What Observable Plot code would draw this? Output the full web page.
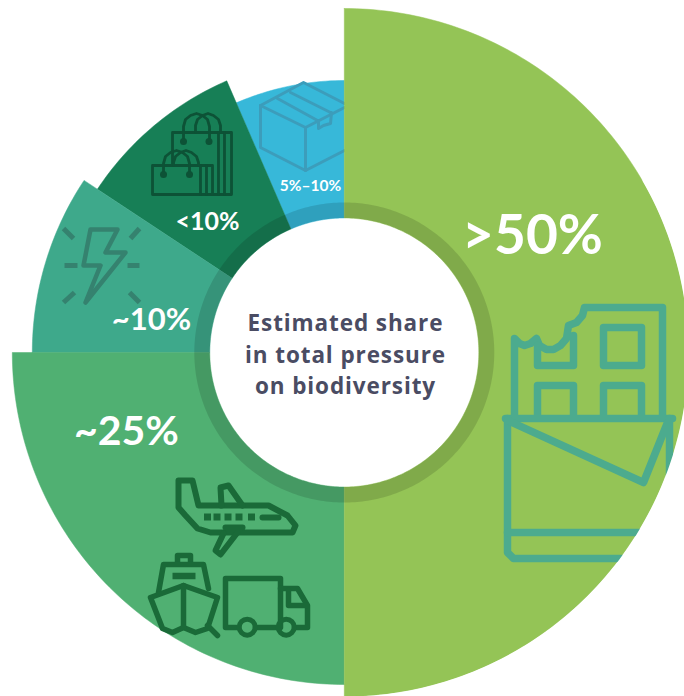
<!DOCTYPE html>
<html><head><meta charset="utf-8">
<script src="https://cdn.jsdelivr.net/npm/d3@7"></script>
<script src="https://cdn.jsdelivr.net/npm/@observablehq/plot@0.6"></script>
<style>html,body{margin:0;padding:0;background:#fff}svg{display:block}</style>
</head><body><div id="chart"></div>
<script>
// chart values
const labels = [">50%", "~25%", "~10%", "<10%", "5%–10%"];
const shares = [50, 25, 9.3, 9.2, 6.5];
const radii = [344, 332, 312, 296, 272];
const colors = ["#94c456", "#50b072", "#3ea98b", "#177f56", "#37b8d9"];
const centerTitle = ["Estimated share", "in total pressure", "on biodiversity"];

// pictograms, as polylines on the picture's own grid
const iconBar = [
  [[514,417],[514,338],[519,343],[524,345],[530,343],[536,338],[539,345],[546,349],[553,349],[560,345],[566,338],[568,325],[576,322],[582,315],[584,307],[662,307],[662,417]],
  [[537,345],[537,365],[573,365],[573,335]],
  [[603,327],[641,327],[641,365],[603,365],[603,327]],
  [[537,417],[537,385],[573,385],[573,417]],
  [[603,417],[603,385],[641,385],[641,417]],
  [[505,418],[672,418]],
  [[507,418],[507,552],[513,558],[640,558]],
  [[507,532],[650,532]],
  [[507,420],[643,482],[667,422]],
  [[669,418],[669,480]]
];
const iconPlane = [
  [[178,480],[192,480],[198,505],[268,505],[287,515],[295,525],[292,532],[210,532],[197,528],[185,515],[178,507],[178,480]],
  [[221,505],[220,487],[228,485],[242,505]],
  [[223,533],[215,550],[220,554],[237,532]],
  [[225,527],[242,527]],
  [[262,517],[278,517]]
];
const iconShip = [
  [[177,562],[177,555],[190,555],[190,562]],
  [[158,592],[163,564],[203,564],[208,588]],
  [[150,597],[183,585],[217,597],[207,628],[195,632],[183,627],[172,632],[162,628],[150,597]],
  [[183,585],[183,627]],
  [[207,625],[217,635]]
];
const iconTruck = [
  [[238,627],[225,627],[225,578],[280,578],[280,627]],
  [[255,627],[277,627]],
  [[294,627],[307,627],[307,605],[297,588],[280,588]],
  [[288,590],[288,605],[306,605]]
];
const iconBags = [
  [[172,165],[172,132],[231,132],[231,194],[152,194],[152,165],[212,165],[212,194]],
  [[218,132],[218,194]], [[224,132],[224,194]],
  [[200,165],[200,194]], [[206,165],[206,194]],
  [[183,141],[183,126],[185,119],[190,115],[196,113],[202,115],[207,119],[209,126],[209,141]],
  [[195,132],[195,125],[197,119],[202,115],[207.5,113],[213,115],[218,119],[220,125],[220,132]],
  [[163,174],[163,163],[165,156],[170,152],[176,150],[182,152],[187,156],[189,163],[189,174]],
  [[173,165],[173,162],[175,156],[180,152],[185.5,150],[191,152],[196,156],[198,162],[198,165]]
];
const iconBox = [
  [[260,105],[303,82],[344,103]],
  [[260,105],[305,127],[344,107]],
  [[305,127],[305,170]],
  [[260,105],[260,147],[305,170],[344,150]],
  [[277,98],[317,120]],
  [[290,92],[330,112]],
  [[318,120],[318,128],[323,125],[330,123],[331,112]]
];
const iconBolt = [[[90,229],[117,229],[105,252],[125,252],[85,302],[100,265],[83,265],[90,229]]];
const iconRays = [
  [[63,228],[73,238]], [[139,228],[130,238]], [[64,265],[77,265]],
  [[127,265],[139,265]], [[63,302],[74,292]], [[139,302],[129,292]]
];

const cx = 343.8, cy = 352, holeR = 134.5, ringR = 150;
const rad = (deg) => deg * Math.PI / 180;
function sector(a0, a1, r0, r1, key) {
  const n = Math.ceil(Math.abs(a1 - a0)) + 1, pts = [];
  const at = (a, r) => ({key, x: cx + r * Math.sin(rad(a)), y: cy - r * Math.cos(rad(a))});
  for (let i = 0; i < n; i++) pts.push(at(a0 + (a1 - a0) * i / (n - 1), r1));
  for (let i = n - 1; i >= 0; i--) pts.push(at(a0 + (a1 - a0) * i / (n - 1), r0));
  pts.push(pts[0]);
  return pts;
}
const total = d3.sum(shares);
let acc = 0;
const slices = labels.map((label, i) => {
  const a0 = acc / total * 360; acc += shares[i];
  return sector(a0, acc / total * 360, holeR, radii[i], label);
});
const sliceMark = (idx) => Plot.line(idx.flatMap((i) => slices[i]), {
  x: "x", y: "y", z: "key", fill: "key", stroke: "key", strokeWidth: 0.5, curve: "linear"
});
const iconMark = (polys, color, width, cap = "round") => Plot.line(
  polys.flatMap((p, id) => p.map(([x, y]) => ({id, x, y}))),
  {x: "x", y: "y", z: "id", stroke: color, strokeWidth: width, fill: "none", strokeLinecap: cap, strokeLinejoin: "round"}
);
const wheel = (pts, color, w) => Plot.dot(pts, {x: "0", y: "1", r: 8, stroke: color, strokeWidth: w, fill: "none"});
const note = (text, x, y, size, weight, font = "Lato", color = "#fff") =>
  Plot.text([text], {x: () => x, y: () => y, text: (d) => d, fontSize: size, fontWeight: weight, fontFamily: font, fill: color, textAnchor: "middle", lineAnchor: "middle"});

const plane = "#1a6a38", bags = "#0d5236", boxC = "#3c9dbb", bolt = "#35826f", bar = "#4cab8e";

const chart = Plot.plot({
  width: 684, height: 696, margin: 0,
  style: {background: "#fff"},
  x: {domain: [0, 684], range: [0, 684], axis: null},
  y: {domain: [0, 696], range: [0, 696], axis: null},
  color: {domain: labels, range: colors},
  marks: [
    sliceMark([4, 3, 2, 1]),
    iconMark(iconBox, boxC, 3),
    sliceMark([0]),
    Plot.line(sector(0, 360, holeR, ringR, "ring"), {x: "x", y: "y", fill: "#000", fillOpacity: 0.13, stroke: "none"}),
    iconMark(iconBar, bar, 7.5),
    Plot.line(sector(60, 180, radii[0] + 0.2, 420, "edge"), {x: "x", y: "y", fill: "#fff", stroke: "none"}),
    iconMark(iconPlane, plane, 6),
    Plot.line([207, 216.5, 227.5, 238.5, 251].map((x, id) => [[x - 3.5, id], [x + 3.5, id]]).flat().map(([x, id]) => ({x, id})),
      {x: "x", y: () => 516.5, z: "id", stroke: plane, strokeWidth: 7, strokeLinecap: "butt"}),
    iconMark(iconShip, plane, 5.5),
    iconMark([[[172, 575.5], [195, 575.5]]], plane, 6.5, "butt"),
    iconMark(iconTruck, plane, 5.5),
    wheel([[246.7, 626.7], [285.7, 626.7]], plane, 5),
    iconMark(iconBags, bags, 2.8),
    Plot.dot([[183, 141], [208.5, 141], [163, 174], [189, 174]], {x: "0", y: "1", r: 3.5, fill: bags}),
    iconMark(iconBolt, bolt, 4.5),
    iconMark(iconRays, bolt, 5, "butt"),
    note(">50%", 532, 236, 55, 700),
    note("~25%", 126, 431, 41, 700),
    note("~10%", 151, 320, 31, 700),
    note("<10%", 207, 221, 25, 700),
    note("5%–10%", 310, 186, 15.5, 700),
    note(centerTitle[0], 345, 323, 22.5, 700, "Open Sans", "#4a4c63"),
    note(centerTitle[1], 345, 355, 22.5, 700, "Open Sans", "#4a4c63"),
    note(centerTitle[2], 345, 386, 22.5, 700, "Open Sans", "#4a4c63")
  ]
});
d3.select(chart).selectAll("text").filter(function () { return centerTitle.includes(this.textContent); }).attr("letter-spacing", "0.9");
document.getElementById("chart").append(chart);
</script></body></html>
